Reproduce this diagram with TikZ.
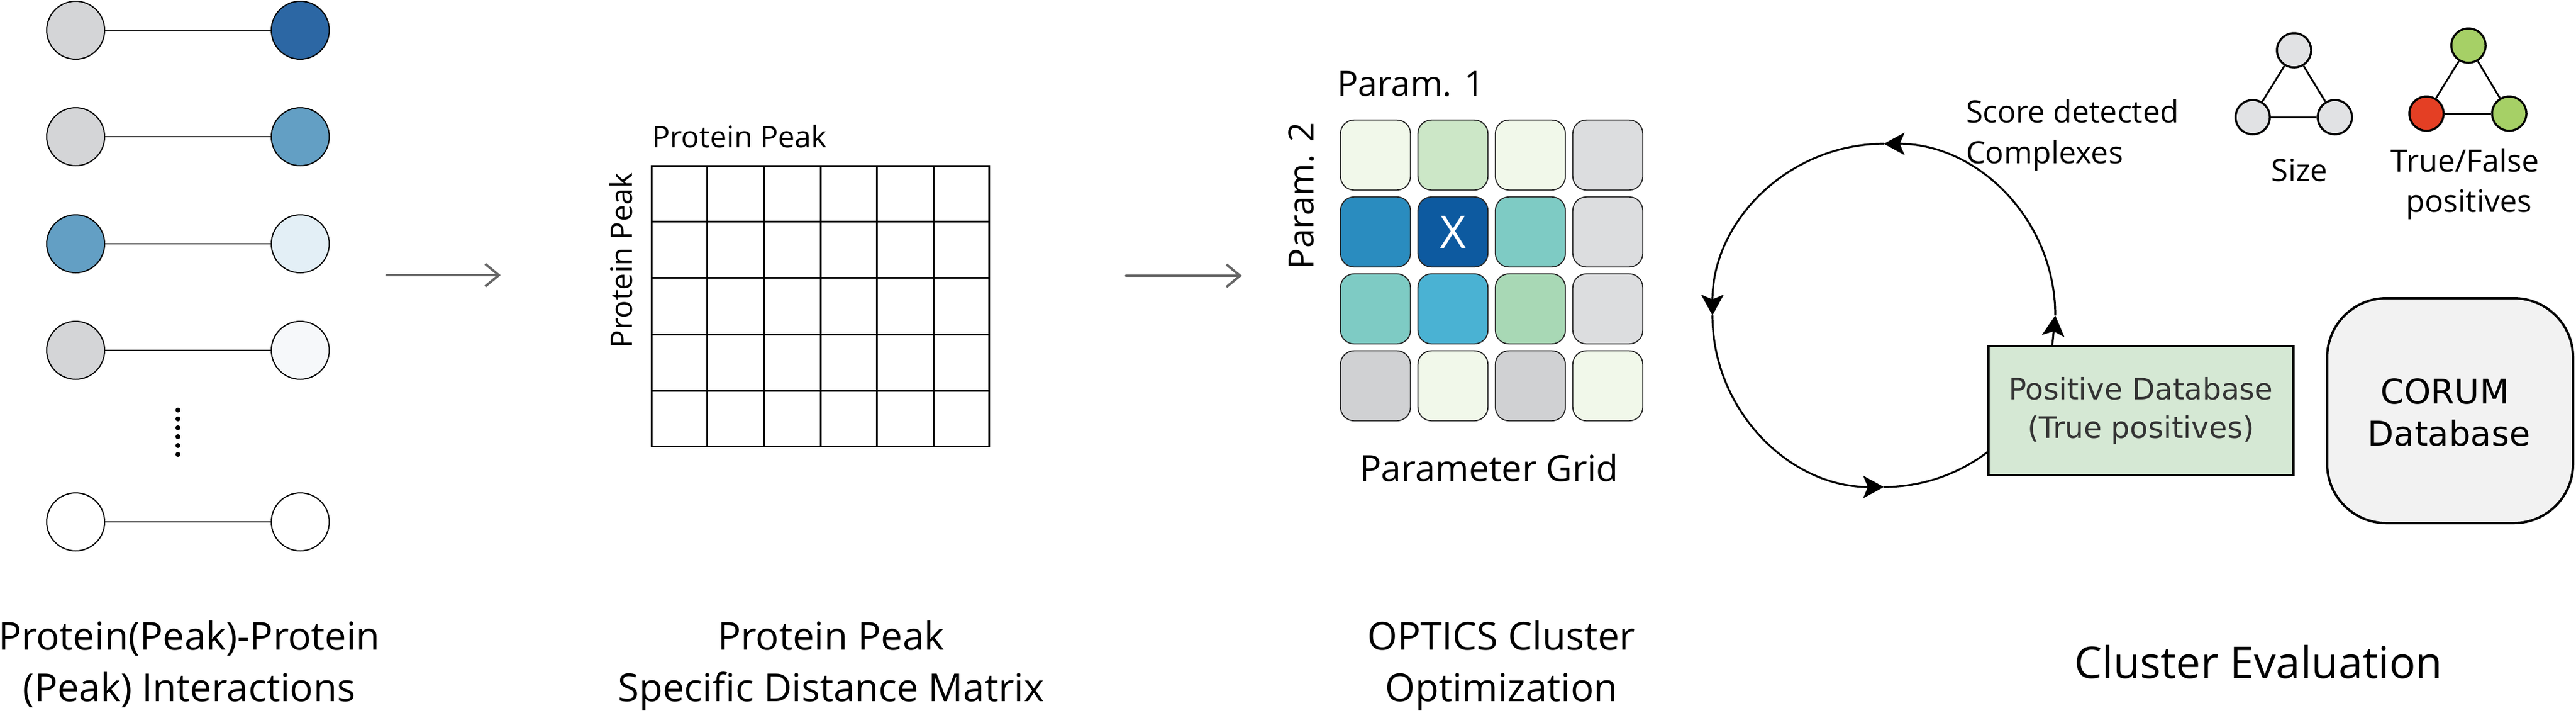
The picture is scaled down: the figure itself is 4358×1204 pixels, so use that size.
\documentclass[tikz,border=0pt]{standalone}
\usepackage{fontspec}
\setmainfont{Open Sans}
\newfontfamily\dvfont{DejaVu Sans}
\usetikzlibrary{arrows.meta,shapes.geometric,calc}
\definecolor{cgray}{HTML}{D4D5D7}
\definecolor{cblueA}{HTML}{2C67A4}
\definecolor{cblueB}{HTML}{639FC4}
\definecolor{cpaleA}{HTML}{E3EFF6}
\definecolor{cpaleB}{HTML}{F6F8FA}
\definecolor{arrowgray}{HTML}{666666}
\definecolor{tlg}{HTML}{F1F8EA}
\definecolor{tmg}{HTML}{CCE7C7}
\definecolor{tgr}{HTML}{DCDDDF}
\definecolor{tgrB}{HTML}{D0D1D3}
\definecolor{tbA}{HTML}{2A8CBF}
\definecolor{tbB}{HTML}{0D5AA0}
\definecolor{tteal}{HTML}{7ECBC4}
\definecolor{tbC}{HTML}{4AB2D3}
\definecolor{tgC}{HTML}{A8D8B5}
\definecolor{pdgreen}{HTML}{D5E8D4}
\definecolor{corgray}{HTML}{F2F2F2}
\definecolor{sgray}{HTML}{E1E2E4}
\definecolor{tfgreen}{HTML}{A6D066}
\definecolor{tfred}{HTML}{E43F24}
\definecolor{pdtext}{HTML}{333333}
\newcommand\fsz[1]{\fontsize{#1}{#1}\selectfont}
\begin{document}
\begin{tikzpicture}[x=0.25pt,y=-0.25pt,
  txt/.style={inner sep=0pt, outer sep=0pt, anchor=base},
  lbl/.style={txt, font=\fsz{16.3pt}},
  small/.style={txt, font=\fsz{13pt}},
  ppi/.style={circle, draw=black, line width=0.5pt, minimum size=24.5pt, inner sep=0pt},
  link/.style={line width=0.55pt},
  flow/.style={draw=arrowgray, line width=1pt, line cap=round, -{Straight Barb[length=5.75pt,width=9.5pt]}},
  tile/.style={rectangle, rounded corners=5.75pt, draw=black!85, line width=0.45pt, minimum size=29.6pt, inner sep=0pt},
  cycarrow/.style={line width=0.8pt, -{Stealth[length=8.75pt,width=9.5pt,inset=2pt]}},
  cycline/.style={line width=0.8pt},
  tnode/.style={circle, draw=black, line width=0.875pt, minimum size=14.5pt, inner sep=0pt},
  tedge/.style={line width=0.75pt},
  gridline/.style={line width=0.75pt}
]
\fill[white] (0,0) rectangle (4358,1204);
\useasboundingbox (0,0) rectangle (4358,1204);

% ---------- panel 1: interactions ----------
\node[ppi, fill=cgray]  (a1) at (128,51) {};
\node[ppi, fill=cblueA] (b1) at (508,51) {};
\node[ppi, fill=cgray]  (a2) at (128,231) {};
\node[ppi, fill=cblueB] (b2) at (508,231) {};
\node[ppi, fill=cblueB] (a3) at (128,412) {};
\node[ppi, fill=cpaleA] (b3) at (508,412) {};
\node[ppi, fill=cgray]  (a4) at (128,592) {};
\node[ppi, fill=cpaleB] (b4) at (508,592) {};
\node[ppi, fill=white]  (a5) at (128,882) {};
\node[ppi, fill=white]  (b5) at (508,882) {};
\foreach \i in {1,...,5} { \draw[link] (a\i) -- (b\i); }
\foreach \k [count=\j] in {693,708,723,738,753,768} {
  \node[circle, fill=black, inner sep=0pt, minimum size=2.1pt] (dot\j) at (301,\k) {};
}
\node[lbl] (l1a) at (320,1098) {Protein(Peak)-Protein};
\node[lbl] (l1b) at (320,1185) {(Peak) Interactions};

\coordinate (f1s) at (654,465);
\coordinate (f1e) at (847,465);
\draw[flow] (f1s) -- (f1e);

% ---------- panel 2: distance matrix ----------
\node[rectangle, draw=black, gridline, minimum width=142.75pt, minimum height=118.5pt, inner sep=0pt, anchor=north west] (dm) at (1101,279) {};
\foreach \c in {1,...,5} {
  \draw[gridline] ($(dm.north west)!\c/6!(dm.north east)$) -- ($(dm.south west)!\c/6!(dm.south east)$);
}
\foreach \r in {1,...,4} {
  \draw[gridline] ($(dm.north west)!\r/5!(dm.south west)$) -- ($(dm.north east)!\r/5!(dm.south east)$);
}
\node[txt, font=\fsz{12.6pt}, anchor=base west] (dmtop) at (1103,249) {Protein Peak};
\node[txt, font=\fsz{12.6pt}, rotate=90] (dmleft) at (1069,440) {Protein Peak};
\node[lbl] (l2a) at (1406,1098) {Protein Peak};
\node[lbl] (l2b) at (1406,1185) {Specific Distance Matrix};

\coordinate (f2s) at (1905,466);
\coordinate (f2e) at (2101,466);
\draw[flow] (f2s) -- (f2e);

% ---------- panel 3: parameter grid ----------
\node[tile, fill=tlg]   (t11) at (2327,262) {};
\node[tile, fill=tmg]   (t12) at (2458,262) {};
\node[tile, fill=tlg]   (t13) at (2589,262) {};
\node[tile, fill=tgr]   (t14) at (2720,262) {};
\node[tile, fill=tbA]   (t21) at (2327,392) {};
\node[tile, fill=tbB, text=white, font=\fsz{19pt}] (t22) at (2458,392) {X};
\node[tile, fill=tteal] (t23) at (2589,392) {};
\node[tile, fill=tgr]   (t24) at (2720,392) {};
\node[tile, fill=tteal] (t31) at (2327,522) {};
\node[tile, fill=tbC]   (t32) at (2458,522) {};
\node[tile, fill=tgC]   (t33) at (2589,522) {};
\node[tile, fill=tgr]   (t34) at (2720,522) {};
\node[tile, fill=tgrB]  (t41) at (2327,652) {};
\node[tile, fill=tlg]   (t42) at (2458,652) {};
\node[tile, fill=tgrB]  (t43) at (2589,652) {};
\node[tile, fill=tlg]   (t44) at (2720,652) {};
\node[txt, font=\fsz{14.75pt}, anchor=base west] (p1) at (2262,162) {Param. 1};
\node[txt, font=\fsz{14.75pt}, rotate=90] (p2) at (2222,331) {Param. 2};
\node[txt, font=\fsz{15.25pt}] (pg) at (2519,813) {Parameter Grid};
\node[lbl] (l3a) at (2540,1098) {OPTICS Cluster};
\node[lbl] (l3b) at (2540,1185) {Optimization};

% ---------- panel 4: cluster evaluation ----------
\node[circle, minimum size=145pt, inner sep=0pt, outer sep=0pt] (cyc) at (3187,533) {};
\draw[cycarrow] (cyc.east) arc[start angle=0, end angle=90, radius=72.5pt];
\draw[cycarrow] (cyc.north) arc[start angle=90, end angle=180, radius=72.5pt];
\draw[cycarrow] (cyc.west) arc[start angle=180, end angle=270, radius=72.5pt];
\draw[cycline] (cyc.south) arc[start angle=270, end angle=308, radius=72.5pt];

\node[rectangle, draw=black, line width=1pt, fill=pdgreen, minimum width=129pt, minimum height=54.5pt, inner sep=0pt] (posdb) at (3622,694) {};
\coordinate (pdtop) at ([xshift=27.5pt]posdb.north west);
\draw[cycarrow] (pdtop) -- (cyc.east);
\node[txt, font={\dvfont\fsz{12.5pt}}, text=pdtext] (pd1) at (3622,675) {Positive Database};
\node[txt, font={\dvfont\fsz{12.5pt}}, text=pdtext] (pd2) at (3622,740) {(True positives)};

\node[rectangle, draw=black, line width=1pt, fill=corgray, rounded corners=25pt, minimum width=104pt, minimum height=95pt, inner sep=0pt] (corum) at (4145,694) {};
\node[txt, font={\dvfont\fsz{14.4pt}}] (cor1) at (4136,682) {CORUM};
\node[txt, font={\dvfont\fsz{14.4pt}}] (cor2) at (4143,753) {Database};

\node[small, anchor=base west] (sc1) at (3326,207) {Score detected};
\node[small, anchor=base west] (sc2) at (3326,276) {Complexes};

\node[tnode, fill=sgray] (s1) at (3881,85) {};
\node[tnode, fill=sgray] (s2) at (3811,198) {};
\node[tnode, fill=sgray] (s3) at (3950,198) {};
\draw[tedge] (s1) -- (s2);
\draw[tedge] (s1) -- (s3);
\draw[tedge] (s2) -- (s3);
\node[small] (sz) at (3890,306) {Size};

\node[tnode, fill=tfgreen] (g1) at (4176,77) {};
\node[tnode, fill=tfred]   (g2) at (4105,192) {};
\node[tnode, fill=tfgreen] (g3) at (4245,192) {};
\draw[tedge] (g1) -- (g2);
\draw[tedge] (g1) -- (g3);
\draw[tedge] (g2) -- (g3);
\node[small] (tf1) at (4170,290) {True/False};
\node[small] (tf2) at (4177,358) {positives};

\node[txt, font=\fsz{18.5pt}] (l4) at (3821,1146) {Cluster Evaluation};
\end{tikzpicture}
\end{document}
